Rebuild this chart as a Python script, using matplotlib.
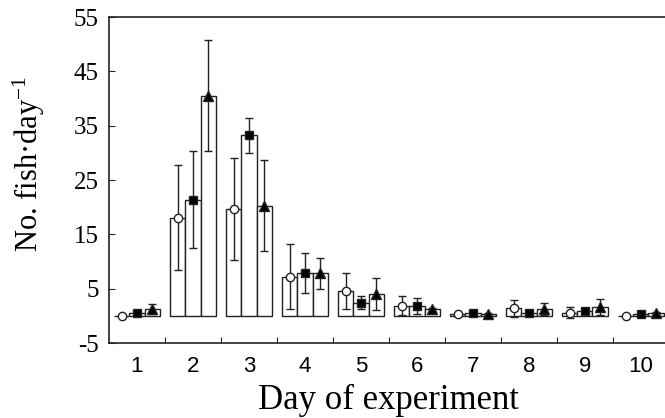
import numpy as np
import matplotlib
matplotlib.use("Agg")
import matplotlib.pyplot as plt

plt.rcParams['font.family'] = ['Liberation Serif', 'DejaVu Serif']
plt.rcParams['mathtext.fontset'] = 'custom'
plt.rcParams['mathtext.rm'] = 'Liberation Serif'
plt.rcParams['mathtext.it'] = 'Liberation Serif:italic'
plt.rcParams['axes.unicode_minus'] = False

days = [1, 2, 3, 4, 5, 6, 7, 8, 9, 10]

# three treatments: open circle, filled square, filled triangle
circle_vals = [0.0, 18.1, 19.7, 7.2, 4.5, 1.9, 0.3, 1.4, 0.6, 0.0]
circle_err = [0.2, 9.6, 9.4, 6.0, 3.3, 1.8, 0.3, 1.6, 1.0, 0.1]
square_vals = [0.5, 21.4, 33.2, 7.9, 2.4, 1.8, 0.5, 0.6, 0.9, 0.4]
square_err = [0.2, 9.0, 3.3, 3.7, 1.2, 1.5, 0.2, 0.2, 0.3, 0.1]
tri_vals = [1.2, 40.5, 20.3, 7.8, 4.0, 1.2, 0.4, 1.2, 1.6, 0.5]
tri_err = [0.9, 10.2, 8.3, 2.9, 2.9, 0.3, 0.2, 1.1, 1.5, 0.2]

series = [
    (circle_vals, circle_err, 'o', 'white'),
    (square_vals, square_err, 's', 'black'),
    (tri_vals, tri_err, '^', 'black'),
]

ink = '#222222'
bw = 0.27

fig = plt.figure(figsize=(6.65, 4.18), dpi=100)
ax = fig.add_axes([0.1639, 0.1794, 0.842, 0.7799])

x = np.array(days, dtype=float)
for i, (vals, err, mk, fc) in enumerate(series):
    xs = x + (i - 1) * bw
    ax.bar(xs, vals, width=bw, color='white', edgecolor=ink, linewidth=1.0, zorder=1)
    ax.errorbar(xs, vals, yerr=err, fmt='none', ecolor=ink, elinewidth=1.0,
                capsize=3, capthick=1.0, zorder=2)
    ms = 7 if mk == '^' else 6
    ax.plot(xs, vals, linestyle='none', marker=mk, markersize=ms,
            markerfacecolor=fc, markeredgecolor=ink, markeredgewidth=1.0, zorder=3)

ax.set_xlim(0.5, 10.5)
ax.set_ylim(-5, 55)
ax.set_yticks([-5, 5, 15, 25, 35, 45, 55])

# ticks at group boundaries, labels at day centres
ax.set_xticks(np.arange(1.5, 10.5, 1.0))
ax.set_xticklabels([])
ax.set_xticks(days, minor=True)
ax.set_xticklabels([str(d) for d in days], minor=True, family='Liberation Sans', fontsize=16)
ax.tick_params(axis='x', which='minor', length=0, pad=9)
ax.tick_params(axis='x', which='major', direction='in', length=4, color=ink)
ax.tick_params(axis='y', direction='in', length=4, labelsize=18, pad=7.5, color=ink)

for s in ax.spines.values():
    s.set_color(ink)
    s.set_linewidth(1.2)

ax.set_xlabel('Day of experiment', fontsize=25, labelpad=5.5)
ax.set_ylabel('No. fish\u00b7day$^{-1}$', fontsize=22)
ax.yaxis.set_label_coords(-0.111, 0.55)

fig.savefig('out.png', dpi=100)
